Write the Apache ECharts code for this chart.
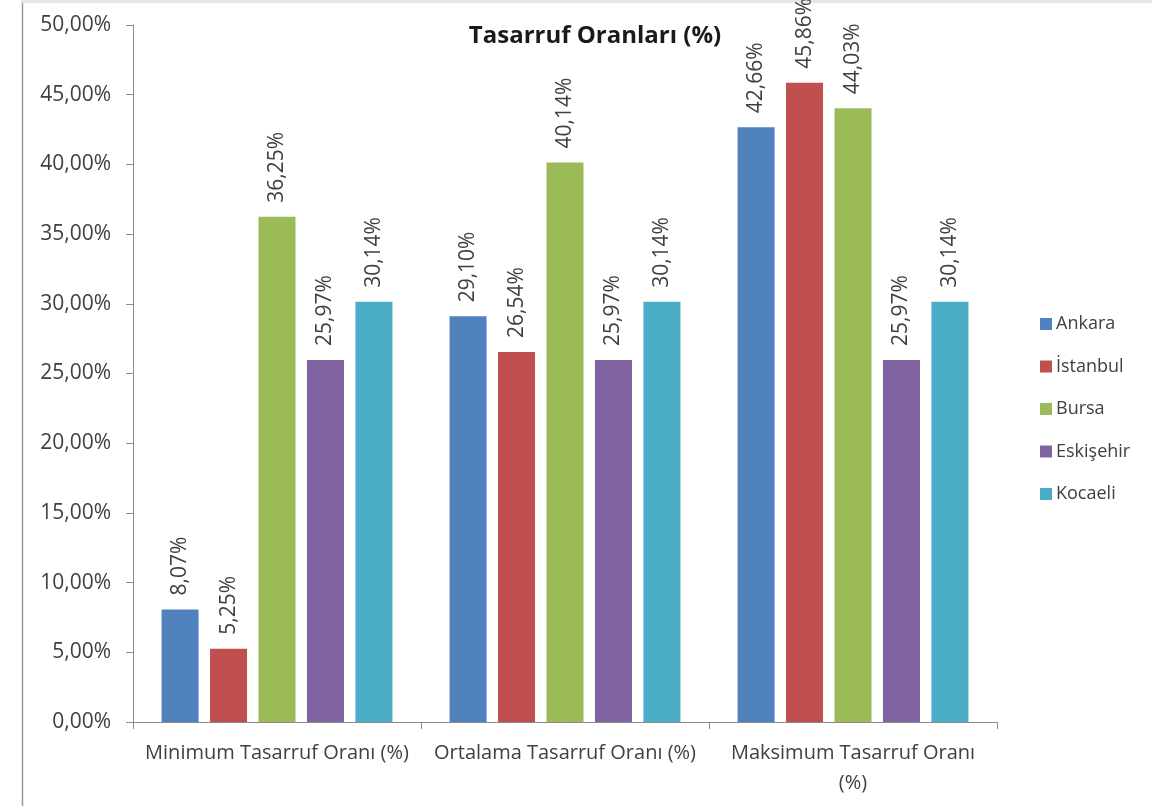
<!DOCTYPE html>
<html>
<head>
<meta charset="utf-8">
<script src="https://cdn.jsdelivr.net/npm/echarts@6/dist/echarts.min.js"></script>
<style>
  html, body { margin: 0; padding: 0; background: #fff; }
  #chart { width: 1152px; height: 809px; }
</style>
</head>
<body>
<div id="chart"></div>
<script>
// Savings rates per city, three summary categories
const categories = ['Minimum Tasarruf Oranı (%)', 'Ortalama Tasarruf Oranı (%)', 'Maksimum Tasarruf Oranı (%)'];
const cities = ['Ankara', 'İstanbul', 'Bursa', 'Eskişehir', 'Kocaeli'];
const ankara = [8.07, 29.10, 42.66];
const istanbul = [5.25, 26.54, 45.86];
const bursa = [36.25, 40.14, 44.03];
const eskisehir = [25.97, 25.97, 25.97];
const kocaeli = [30.14, 30.14, 30.14];
const yTicks = { min: 0, max: 50, interval: 5 };

const seriesValues = [ankara, istanbul, bursa, eskisehir, kocaeli];
const colors = ['#4F81BD', '#C0504D', '#9BBB59', '#8064A2', '#4BACC6'];
const FONT = '"Open Sans", "Noto Sans", sans-serif';
const TEXT = '#404040';

const pct = v => v.toFixed(2).replace('.', ',') + '%';

const chart = echarts.init(document.getElementById('chart'));

chart.setOption({
  backgroundColor: '#fff',
  animation: false,
  textStyle: { fontFamily: FONT },
  title: {
    text: 'Tasarruf Oranları (%)',
    left: 590,
    top: 19,
    textAlign: 'center',
    textStyle: { fontFamily: FONT, fontSize: 24, fontWeight: 'bold', color: '#1a1a1a' }
  },
  legend: {
    orient: 'vertical',
    left: 1035,
    top: 310,
    itemWidth: 12,
    itemHeight: 12,
    itemGap: 24.5,
    icon: 'rect',
    data: cities,
    textStyle: { fontFamily: FONT, fontSize: 18, color: TEXT, padding: [0, 0, 0, -1] }
  },
  grid: { left: 133, right: 155, top: 25, bottom: 87, containLabel: false },
  xAxis: {
    type: 'category',
    data: categories,
    axisLine: { lineStyle: { color: '#8c8c8c', width: 1 } },
    axisTick: { show: true, length: 7, lineStyle: { color: '#8c8c8c' } },
    axisLabel: {
      color: TEXT,
      fontFamily: FONT,
      fontSize: 20,
      margin: 16,
      lineHeight: 30,
      interval: 0,
      formatter: (v, i) => i === 2 ? v.replace(' (%)', '\n(%)') : v
    }
  },
  yAxis: {
    type: 'value',
    min: yTicks.min,
    max: yTicks.max,
    interval: yTicks.interval,
    splitLine: { show: false },
    axisLine: { show: true, lineStyle: { color: '#8c8c8c', width: 1 } },
    axisTick: { show: true, length: 7, lineStyle: { color: '#8c8c8c' } },
    axisLabel: {
      color: TEXT,
      fontFamily: FONT,
      fontSize: 21,
      margin: 22,
      formatter: v => pct(v)
    }
  },
  graphic: [
    { type: 'line', shape: { x1: 22.5, y1: 0, x2: 22.5, y2: 806 }, style: { stroke: '#9a9a9a', lineWidth: 1.5 }, silent: true },
    { type: 'line', shape: { x1: 22, y1: 1.5, x2: 1152, y2: 1.5 }, style: { stroke: '#e6e6e6', lineWidth: 3 }, silent: true }
  ],
  series: cities.map((name, i) => ({
    name,
    type: 'bar',
    data: seriesValues[i],
    barWidth: 37,
    barGap: '31%',
    itemStyle: { color: colors[i] },
    label: {
      show: true,
      position: 'top',
      rotate: 90,
      align: 'left',
      verticalAlign: 'middle',
      distance: 14,
      color: TEXT,
      fontFamily: FONT,
      fontSize: 21,
      formatter: p => pct(p.value)
    }
  }))
});
</script>
</body>
</html>
